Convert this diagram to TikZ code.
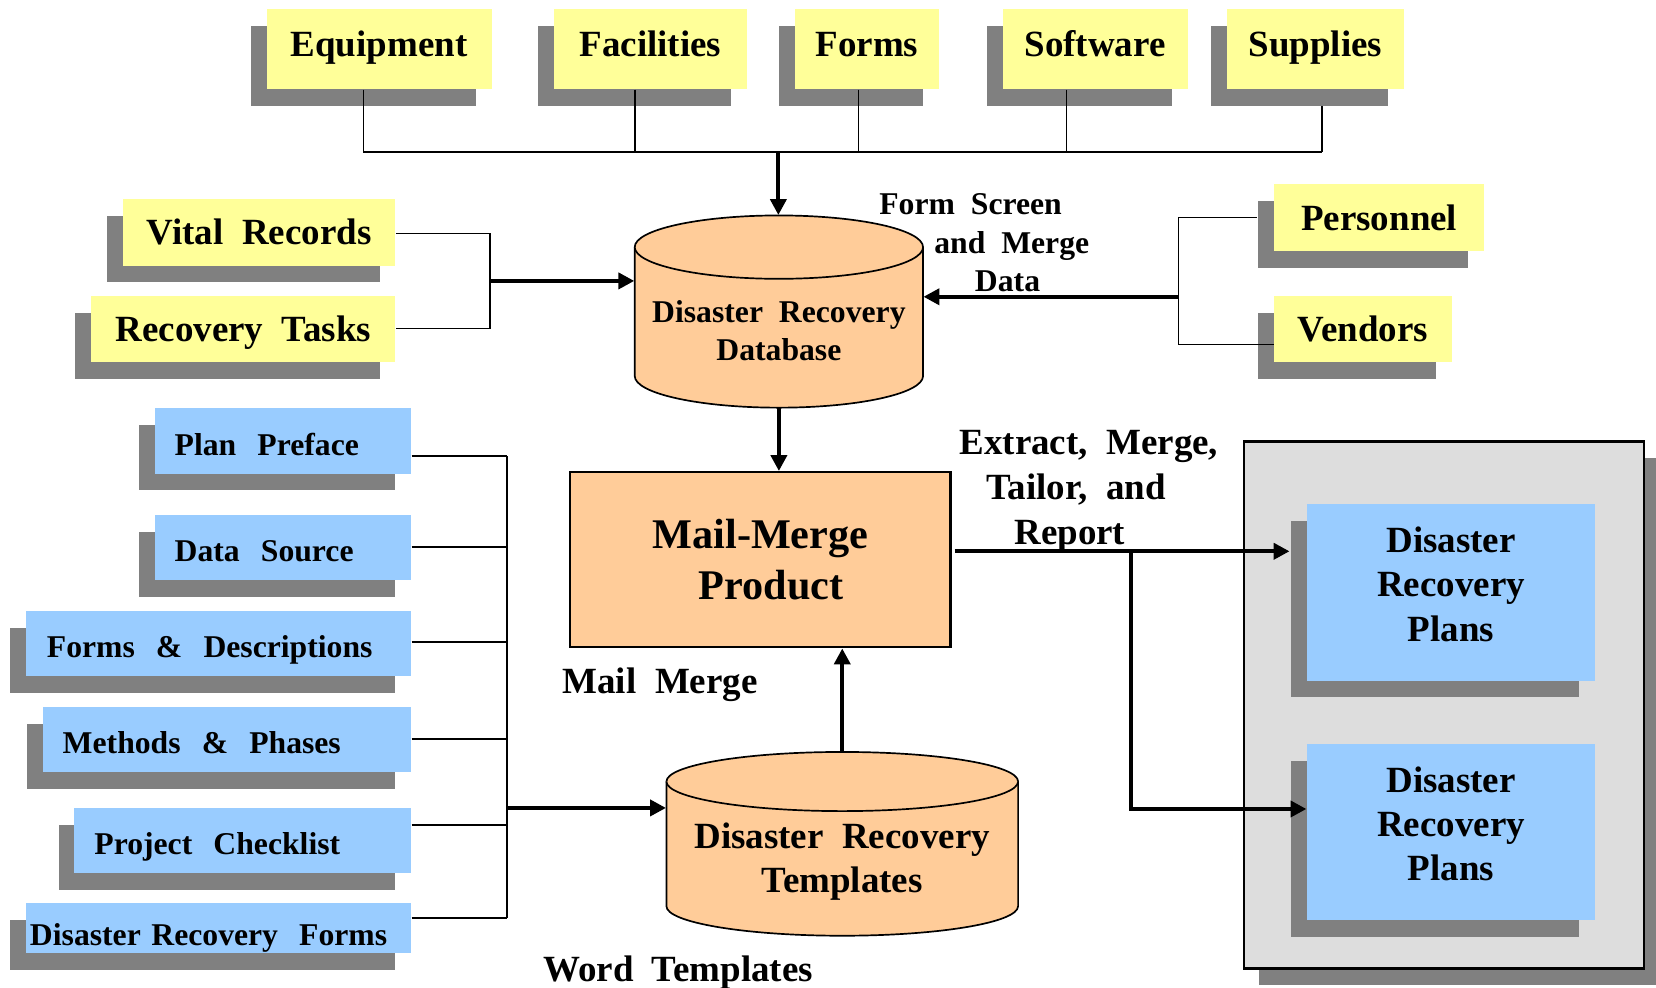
\documentclass[tikz,border=0pt]{standalone}
\usepackage{fontspec}
\setmainfont{Liberation Serif}
\usetikzlibrary{arrows.meta,shadows,calc}
\definecolor{note}{HTML}{FFFF99}
\definecolor{sky}{HTML}{99CCFF}
\definecolor{peach}{HTML}{FFCC99}
\definecolor{shade}{HTML}{808080}
\definecolor{panel}{HTML}{DDDDDD}

% drum shape: centre x, top-ellipse y, bottom-ellipse y, x radius, y radius
\newcommand\drawdrum[5]{%
  \filldraw[drum] (#1-#4,#2) -- (#1-#4,#3)
    arc[start angle=180,end angle=0,x radius=#4,y radius=#5]
    -- (#1+#4,#2)
    arc[start angle=0,end angle=-180,x radius=#4,y radius=#5] -- cycle;
  \draw[drum] (#1-#4,#2) arc[start angle=180,end angle=0,x radius=#4,y radius=#5];
}

\tikzset{
  big/.style={font=\bfseries\fontsize{17.5}{21}\selectfont},
  small/.style={font=\bfseries\fontsize{15}{18}\selectfont},
  card/.style={rectangle, inner sep=0pt, anchor=north west, align=center,
    drop shadow={shadow xshift=-7.5pt, shadow yshift=-8pt, fill=shade, opacity=1}},
  yellowcard/.style={card, big, fill=note},
  topcard/.style={yellowcard, text height=11pt, text depth=3.8pt},
  sidecard/.style={yellowcard, text height=12pt, text depth=0pt},
  bluecard/.style={card, small, fill=sky, align=left, inner ysep=0pt, text height=15pt, text depth=1.5pt},
  plancard/.style={card, big, fill=sky},
  drum/.style={fill=peach, draw=black, line width=0.8pt},
  slot/.style={rectangle, inner sep=0pt},
  lbl/.style={big, inner sep=0pt, anchor=base},
  thinline/.style={line width=0.75pt},
  thickline/.style={line width=2pt},
  flow/.style={thickline, -{Triangle[length=7.5pt,width=7.5pt]}},
}

\begin{document}
\begin{tikzpicture}[x=0.5pt,y=-0.5pt]
\useasboundingbox (0,0) rectangle (1568,935);

% ---------- resource cards along the top ----------
\node[topcard, minimum width=106.5pt, minimum height=38pt] (equip) at (252,8) {Equipment};
\node[topcard, minimum width=91.5pt, minimum height=38pt] (facil) at (524,8) {Facilities};
\node[topcard, minimum width=68.5pt, minimum height=38pt] (forms) at (752,8) {Forms};
\node[topcard, minimum width=87.5pt, minimum height=38pt] (soft) at (949,8) {Software};
\node[topcard, minimum width=84pt, minimum height=38pt] (supp) at (1161,8) {Supplies};

% ---------- record cards on the left ----------
\node[sidecard, minimum width=129pt, minimum height=31.5pt] (vital) at (116,188) {Vital\ \ Records};
\node[sidecard, minimum width=144pt, minimum height=31pt] (tasks) at (86,280) {Recovery\ \ Tasks};

% ---------- people cards on the right ----------
\node[sidecard, minimum width=99.5pt, minimum height=31.5pt] (pers) at (1206,174) {Personnel};
\node[sidecard, minimum width=84pt, minimum height=31pt] (vend) at (1206,280) {Vendors};

% ---------- document parts ----------
\node[bluecard, text width=102.5pt, inner xsep=9.5pt, minimum height=31pt] (pp) at (146,386) {Plan\ \ Preface};
\node[bluecard, text width=102.5pt, inner xsep=9.5pt, minimum height=31pt] (ds) at (146,487) {Data\ \ Source};
\node[bluecard, text width=162.5pt, inner xsep=10pt, minimum height=31pt] (fd) at (24,578) {Forms\ \ \&\ \ Descriptions};
\node[bluecard, text width=155.5pt, inner xsep=9.5pt, minimum height=31pt] (mp) at (40,669) {Methods\ \ \&\ \ Phases};
\node[bluecard, text width=140.5pt, inner xsep=9.5pt, minimum height=30.5pt] (pc) at (70,765) {Project\ \ Checklist};
\node[bluecard, text width=178.5pt, inner xsep=2pt, minimum height=23.5pt, text height=18pt, text depth=1.5pt] (drf) at (24,855) {Disaster Recovery\ \ Forms};

% ---------- database drum ----------
\drawdrum{737.5}{234}{356}{136.5}{30}
\node[slot, minimum width=136.5pt, minimum height=91pt] (db) at (737.5,295) {};
\node[small, align=center] (dbtext) at (737.5,313) {Disaster\ \ Recovery\\Database};

% ---------- mail-merge product ----------
\node[rectangle, draw=black, line width=1pt, fill=peach, minimum width=180pt, minimum height=83pt,
      inner sep=0pt, align=center, font=\bfseries\fontsize{20}{24}\selectfont] (mm) at (720,530) {Mail-Merge\\\ \ Product};

% ---------- templates drum ----------
\drawdrum{797.5}{740}{858}{166.5}{28}
\node[slot, minimum width=166.5pt, minimum height=87pt] (tpl) at (797.5,799) {};
\node[big, align=center] (tpltext) at (797.5,816) {Disaster\ \ Recovery\\Templates};

% ---------- plans panel ----------
\node[rectangle, anchor=north west, draw=black, line width=1pt, fill=panel, minimum width=189.5pt, minimum height=249.5pt,
      drop shadow={shadow xshift=7pt, shadow yshift=-8pt, fill=shade, opacity=1}] (panel) at (1177,417) {};
\node[plancard, minimum width=136.5pt, minimum height=83.5pt, text depth=8pt] (plan1) at (1237,477) {Disaster\\Recovery\\Plans};
\node[plancard, minimum width=136.5pt, minimum height=83.5pt, text depth=8pt] (plan2) at (1237,704) {Disaster\\Recovery\\Plans};

% ---------- free labels ----------
\node[lbl, small] (fl1) at (919,203) {Form\ \ Screen};
\node[lbl, small] (fl2) at (958,240) {and\ \ Merge};
\node[lbl, small] (fl3) at (954,276) {Data};
\node[lbl] (el1) at (1031,430) {Extract,\ \ Merge,};
\node[lbl] (el2) at (1019,473) {Tailor,\ \ and};
\node[lbl] (el3) at (1013,516) {Report};
\node[lbl] (mlbl) at (625,657) {Mail\ \ Merge};
\node[lbl] (wlbl) at (642,929) {Word\ \ Templates};

% ---------- top bus ----------
\coordinate (b1) at (344,144);
\coordinate (b2) at (601,144);
\coordinate (b3) at (813,144);
\coordinate (b4) at (1010,144);
\coordinate (b5) at (1252,144);
\coordinate (bm) at (737,144);
\coordinate (suppbot) at ([yshift=-8pt]supp.south);
\draw[thinline] (equip.south -| b1) -- (b1);
\draw[thinline] (facil.south -| b2) -- (b2);
\draw[thinline] (forms.south -| b3) -- (b3);
\draw[thinline] (soft.south -| b4) -- (b4);
\draw[thinline] (suppbot -| b5) -- (b5);
\draw[thinline] (b1) -- (b5);
\draw[flow] (bm) -- (bm |- db.north);

% ---------- left records into database ----------
\coordinate (v1) at (464,221);
\coordinate (v2) at (464,311);
\coordinate (vj) at (464,266);
\draw[thinline] (v1 -| vital.east) -- (v1) -- (v2) -- (v2 -| tasks.east);
\draw[flow] (vj) -- (vj -| db.west);

% ---------- people into database ----------
\coordinate (p1) at (1116,206);
\coordinate (p2) at (1116,326);
\coordinate (pj) at (1116,281);
\coordinate (persshadow) at ([xshift=-8pt]pers.west);
\draw[thinline] (p1 -| persshadow) -- (p1) -- (p2) -- (p2 -| vend.west);
\draw[flow] (pj) -- (pj -| db.east);

% ---------- database into product ----------
\draw[flow] (db.south) -- (db.south |- mm.north);

% ---------- document parts into templates ----------
\coordinate (l1) at (480,432);
\coordinate (l2) at (480,518);
\coordinate (l3) at (480,608);
\coordinate (l4) at (480,700);
\coordinate (l5) at (480,781);
\coordinate (l6) at (480,869);
\coordinate (lj) at (480,765);
\draw[thinline] (l1 -| pp.east) -- (l1);
\draw[thinline] (l2 -| ds.east) -- (l2);
\draw[thinline] (l3 -| fd.east) -- (l3);
\draw[thinline] (l4 -| mp.east) -- (l4);
\draw[thinline] (l5 -| pc.east) -- (l5);
\draw[thinline] (l6 -| drf.east) -- (l6);
\draw[thinline] (l1) -- (l6);
\draw[flow] (lj) -- (lj -| tpl.west);

% ---------- templates into product ----------
\draw[flow] (tpl.north) -- (tpl.north |- mm.south);

% ---------- product out to plans ----------
\coordinate (rj) at (1071,522);
\coordinate (r2) at (1071,766);
\coordinate (plan1shadow) at ([xshift=-8pt]plan1.west);
\draw[flow, shorten <=1.5pt] (rj -| mm.east) -- (rj -| plan1shadow);
\draw[flow] (rj) -- (r2) -- (r2 -| plan2.west);
\end{tikzpicture}
\end{document}
